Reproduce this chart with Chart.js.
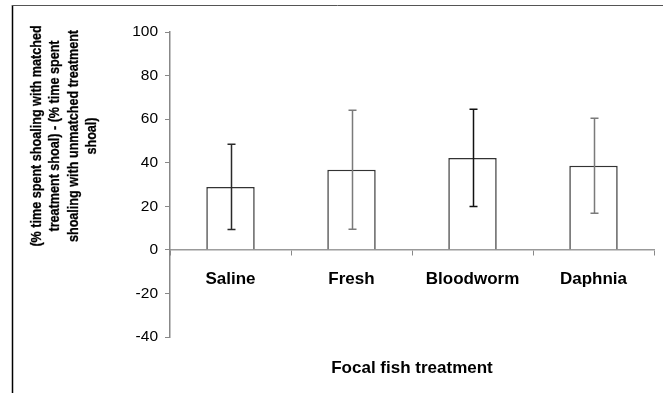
<!DOCTYPE html>
<html><head><meta charset="utf-8">
<script src="https://cdn.jsdelivr.net/npm/chart.js@4.4.0/dist/chart.umd.min.js"></script>
<style>html,body{margin:0;padding:0;background:#fff;overflow:hidden}#wrap{position:relative;width:663px;height:393px}</style>
</head><body><div id="wrap"><canvas id="c" width="663" height="393"></canvas></div>
<script>
const categories = ['Saline', 'Fresh', 'Bloodworm', 'Daphnia'];
const meanValues = [28.9, 36.8, 42.2, 38.6];
const errorValues = [19.6, 27.3, 22.3, 21.8];
const errorColors = ['#2a2a2a', '#7a7a7a', '#111111', '#7a7a7a'];
const yTitleLines = ['(% time spent shoaling with matched', 'treatment shoal) - (% time spent', 'shoaling with unmatched treatment', 'shoal)'];
const xTitle = 'Focal fish treatment';
const yMin = -40, yMax = 100, yStep = 20;

const FONT = "'Liberation Sans', Arial, sans-serif";

const framePlugin = {
  id: 'frame',
  beforeDraw(chart) {
    const ctx = chart.ctx;
    ctx.save();
    ctx.fillStyle = '#fff';
    ctx.fillRect(0, 0, chart.width, chart.height);
    ctx.strokeStyle = '#000';
    ctx.lineWidth = 1.5;
    ctx.beginPath(); ctx.moveTo(12.5, 5); ctx.lineTo(12.5, chart.height); ctx.stroke();
    ctx.strokeStyle = '#555';
    ctx.lineWidth = 1;
    ctx.beginPath(); ctx.moveTo(12, 5.5); ctx.lineTo(chart.width, 5.5); ctx.stroke();
    ctx.restore();
  }
};

const errorBarPlugin = {
  id: 'errorBars',
  afterDatasetsDraw(chart) {
    const ctx = chart.ctx;
    const y = chart.scales.y;
    const meta = chart.getDatasetMeta(0);
    meta.data.forEach((bar, i) => {
      const x = Math.round(bar.x) + 0.5;
      const top = y.getPixelForValue(meanValues[i] + errorValues[i]);
      const bot = y.getPixelForValue(meanValues[i] - errorValues[i]);
      ctx.save();
      ctx.strokeStyle = errorColors[i];
      ctx.lineWidth = 1.5;
      ctx.beginPath();
      ctx.moveTo(x, top); ctx.lineTo(x, bot);
      ctx.moveTo(x - 4, top); ctx.lineTo(x + 4, top);
      ctx.moveTo(x - 4, bot); ctx.lineTo(x + 4, bot);
      ctx.stroke();
      ctx.restore();
    });
  }
};

const titlesPlugin = {
  id: 'titles',
  afterDraw(chart) {
    const ctx = chart.ctx;
    const area = chart.chartArea;
    ctx.save();
    ctx.fillStyle = '#000';
    ctx.font = 'bold 17px ' + FONT;
    ctx.textAlign = 'center';
    ctx.textBaseline = 'middle';
    ctx.fillText(xTitle, (area.left + area.right) / 2, 368);
    ctx.restore();

    ctx.save();
    ctx.fillStyle = '#000';
    ctx.strokeStyle = '#000';
    ctx.lineWidth = 0.3;
    ctx.font = 'bold 15px ' + FONT;
    ctx.textAlign = 'center';
    ctx.textBaseline = 'middle';
    ctx.translate(0, 136);
    ctx.rotate(-Math.PI / 2);
    ctx.scale(0.84, 1);
    yTitleLines.forEach((line, i) => {
      ctx.fillText(line, 0, 37 + i * 18.2);
      ctx.strokeText(line, 0, 37 + i * 18.2);
    });
    ctx.restore();
  }
};

new Chart(document.getElementById('c'), {
  type: 'bar',
  data: {
    labels: categories,
    datasets: [{
      data: meanValues,
      backgroundColor: '#ffffff',
      borderColor: '#333333',
      borderWidth: 1.5,
      barPercentage: 0.4,
      categoryPercentage: 1.0
    }]
  },
  options: {
    responsive: false,
    animation: false,
    devicePixelRatio: 1,
    layout: { padding: { left: 0, right: 9, top: 32, bottom: 56 } },
    plugins: { legend: { display: false }, tooltip: { enabled: false }, title: { display: false } },
    scales: {
      x: {
        position: { y: 0 },
        afterFit(scale) { scale.height = 0; },
        grid: { drawOnChartArea: false, offset: true, tickLength: 5, color: '#888', lineWidth: 1 },
        border: { color: '#999', width: 1.5 },
        ticks: { color: '#000', font: { family: FONT, size: 17, weight: 'bold' }, padding: 14, maxRotation: 0 }
      },
      y: {
        min: yMin, max: yMax,
        afterFit(scale) { scale.width = 170; },
        grid: { drawOnChartArea: false, tickLength: 5, color: '#888', lineWidth: 1 },
        border: { color: '#888', width: 1.5 },
        ticks: { stepSize: yStep, color: '#000', font: { family: FONT, size: 15.5 }, padding: 7 }
      }
    }
  },
  plugins: [framePlugin, errorBarPlugin, titlesPlugin]
});
</script>
</body></html>
